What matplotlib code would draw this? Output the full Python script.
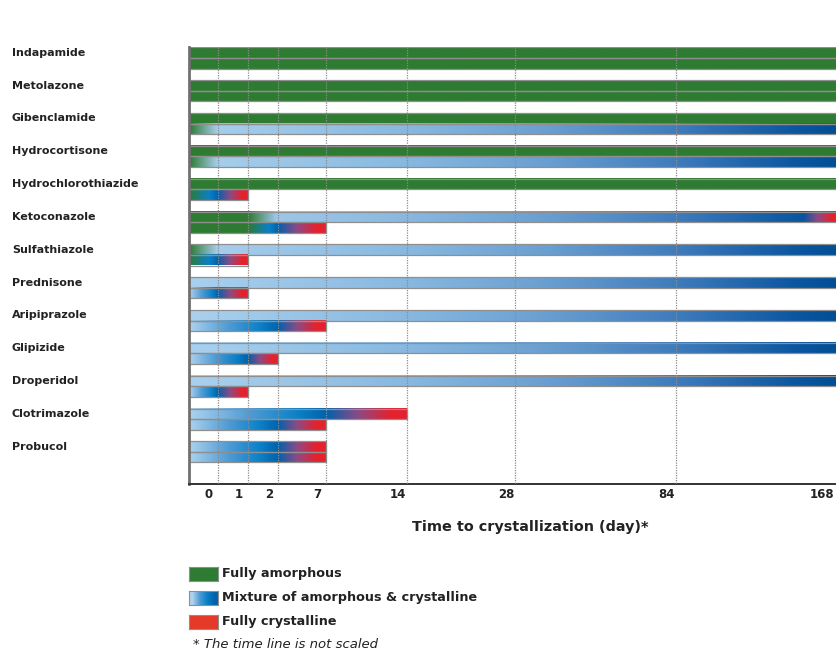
import numpy as np
import matplotlib
matplotlib.use('Agg')
import matplotlib.pyplot as plt
import matplotlib.transforms as mtransforms
from matplotlib.colors import to_rgb, LinearSegmentedColormap
from matplotlib.patches import Rectangle

# 各薬物の結晶化までの時間 (day)
drugs = ['Indapamide', 'Metolazone', 'Gibenclamide', 'Hydrocortisone',
         'Hydrochlorothiazide', 'Ketoconazole', 'Sulfathiazole', 'Prednisone',
         'Aripiprazole', 'Glipizide', 'Droperidol', 'Clotrimazole', 'Probucol']

nan = np.nan
# upper bar: amorphous until / darkest mixture at / end / ends crystalline
# (-1 = origin of the time line, nan = never amorphous)
up_amor = [168, 168, 168, 168, 168, 1, -1, nan, nan, nan, nan, nan, nan]
up_peak = [nan, nan, nan, nan, nan, 150, nan, nan, nan, nan, nan, 7, 2]
up_end = [168, 168, 168, 168, 168, 168, 168, 168, 168, 168, 168, 14, 7]
up_cryst = [0, 0, 0, 0, 0, 1, 0, 0, 0, 0, 0, 1, 1]

# lower bar
lo_amor = [168, 168, -1, -1, -1, 1, -1, nan, nan, nan, nan, nan, nan]
lo_peak = [nan, nan, nan, nan, 0, 2, 0, 0, 2, 1, 0, 2, 2]
lo_end = [168, 168, 168, 168, 1, 7, 1, 1, 7, 2, 1, 7, 7]
lo_cryst = [0, 0, 0, 0, 1, 1, 1, 1, 1, 1, 1, 1, 1]

tick_days = [0, 1, 2, 7, 14, 28, 84, 168]

# the time line is not scaled: slot of each tick along the axis
axis_days = [-1] + tick_days
axis_pos = [0, 29, 59, 89, 137, 218, 326, 487, 650]


def pos(d):
    return np.interp(d, axis_days, axis_pos)


GREEN = to_rgb('#2e7b32')
LIGHT = to_rgb('#aed2ed')
MIDB = to_rgb('#4d9bd5')
BLUE = to_rgb('#0a80c8')
DARK = to_rgb('#0062ac')
PURPLE = to_rgb('#8c4a86')
RED = to_rgb('#e5212d')
long_cmap = LinearSegmentedColormap.from_list(
    'long', [(0, '#aad0ed'), (0.32, '#8abae1'), (0.55, '#6a9fd1'),
             (0.75, '#3f7cbd'), (0.94, '#0a55a0'), (1, '#004e94')])


def bar_stops(amor, peak, end, cryst):
    pe = pos(end)
    pp = pos(peak) if cryst else pe
    has_green = not np.isnan(amor)
    pa = pos(amor) if has_green else 0.0
    st = []
    if has_green:
        st += [(0, GREEN), (pa, GREEN)]
        if pa >= pe:
            return st
    if pp - pa > 200:
        s0 = pa + 28 if has_green else pa
        for x in np.linspace(s0, pp, 16):
            st.append((x, long_cmap(x / pos(168))[:3]))
    else:
        if has_green:
            st += [(pa + 0.7 * (pp - pa), BLUE)]
        else:
            st += [(pa, LIGHT), (pa + 0.45 * (pp - pa), MIDB),
                   (pa + 0.8 * (pp - pa), BLUE)]
        st += [(pp, DARK)]
    if cryst:
        st += [(pp + 0.4 * (pe - pp), PURPLE), (pp + 0.8 * (pe - pp), RED), (pe, RED)]
    return st


def draw_bar(ax, y_top, h, stops, x_end):
    pe = stops[-1][0]
    if pe >= pos(168):
        # bars still running at the end of the study go past the last tick
        stops = stops + [(x_end, stops[-1][1])]
        pe = x_end
    xs = np.linspace(0, pe, 800)
    sx = [s[0] for s in stops]
    img = np.stack([np.interp(xs, sx, [s[1][c] for s in stops]) for c in range(3)], axis=-1)
    ax.imshow(img[None, :, :], extent=(0, pe, y_top + h, y_top), aspect='auto',
              interpolation='bilinear', zorder=1)
    ax.add_patch(Rectangle((0, y_top), pe, h, fill=False, edgecolor='#8f8f8f',
                           lw=0.9, zorder=2))


W, H = 837, 650
fig = plt.figure(figsize=(W / 100, H / 100), dpi=100)
ax_l, ax_r, ax_t, ax_b = 189, 849, 47, 484
ax = fig.add_axes([ax_l / W, 1 - ax_b / H, (ax_r - ax_l) / W, (ax_b - ax_t) / H])

bh = 0.32
ymax = 13.31
for i in range(len(drugs)):
    top = i + 0.015
    draw_bar(ax, top, bh, bar_stops(up_amor[i], up_peak[i], up_end[i], up_cryst[i]),
             ax_r - ax_l)
    draw_bar(ax, top + bh, bh, bar_stops(lo_amor[i], lo_peak[i], lo_end[i], lo_cryst[i]),
             ax_r - ax_l)

ax.vlines(pos(tick_days), 0, ymax, colors='#8c8c8c', linestyles=(0, (1, 1)),
          lw=0.9, zorder=3)

ax.set_xlim(0, ax_r - ax_l)
ax.set_ylim(ymax, 0)
ax.set_yticks([])
ax.set_xticks(pos(tick_days))
ax.set_xticklabels([str(d) for d in tick_days], fontsize=8.5, fontweight='bold',
                   color='#222222')
ax.tick_params(axis='x', length=0, pad=3)
labels = ax.get_xticklabels()
for k, lab in enumerate(labels):
    # labels sit a little left of their grid line; the last one is clipped in the original
    dx = -0.09 if k < len(labels) - 1 else -0.17
    lab.set_transform(lab.get_transform()
                      + mtransforms.ScaledTranslation(dx, 0, fig.dpi_scale_trans))

for s in ['top', 'right']:
    ax.spines[s].set_visible(False)
ax.spines['left'].set_color('#707070')
ax.spines['left'].set_linewidth(2)
ax.spines['bottom'].set_color('#333333')
ax.spines['bottom'].set_linewidth(1.4)

# 薬物名
trans = mtransforms.blended_transform_factory(fig.transFigure, ax.transData)
for i, name in enumerate(drugs):
    ax.text(12 / W, i + 0.015 + bh / 2, name, transform=trans, ha='left', va='center',
            fontsize=8, fontweight='bold', color='#222222')

fig.text(530 / W, 1 - 527 / H, 'Time to crystallization (day)*', ha='center',
         va='center', fontsize=10.4, fontweight='bold', color='#222222')

# 凡例
legend_labels = ['Fully amorphous', 'Mixture of amorphous & crystalline',
                 'Fully crystalline']
legend_y = [574, 598, 622]
legend_img = [np.array([[GREEN, GREEN]]),
              np.array([[LIGHT, MIDB, BLUE, DARK]]),
              np.array([[to_rgb('#e53a28')] * 2])]
for lab, yc, img in zip(legend_labels, legend_y, legend_img):
    lax = fig.add_axes([189 / W, 1 - (yc + 7) / H, 29 / W, 14 / H])
    lax.imshow(img, aspect='auto', interpolation='bilinear')
    lax.set_xticks([])
    lax.set_yticks([])
    for sp in lax.spines.values():
        sp.set_color('#8f8f8f')
        sp.set_linewidth(0.8)
    fig.text(222 / W, 1 - yc / H, lab, ha='left', va='center', fontsize=9.2,
             fontweight='bold', color='#222222')

fig.text(193 / W, 1 - 645 / H, '* The time line is not scaled', ha='left',
         va='center', fontsize=9.5, style='italic', color='#222222')

fig.savefig('out.png', dpi=100)
